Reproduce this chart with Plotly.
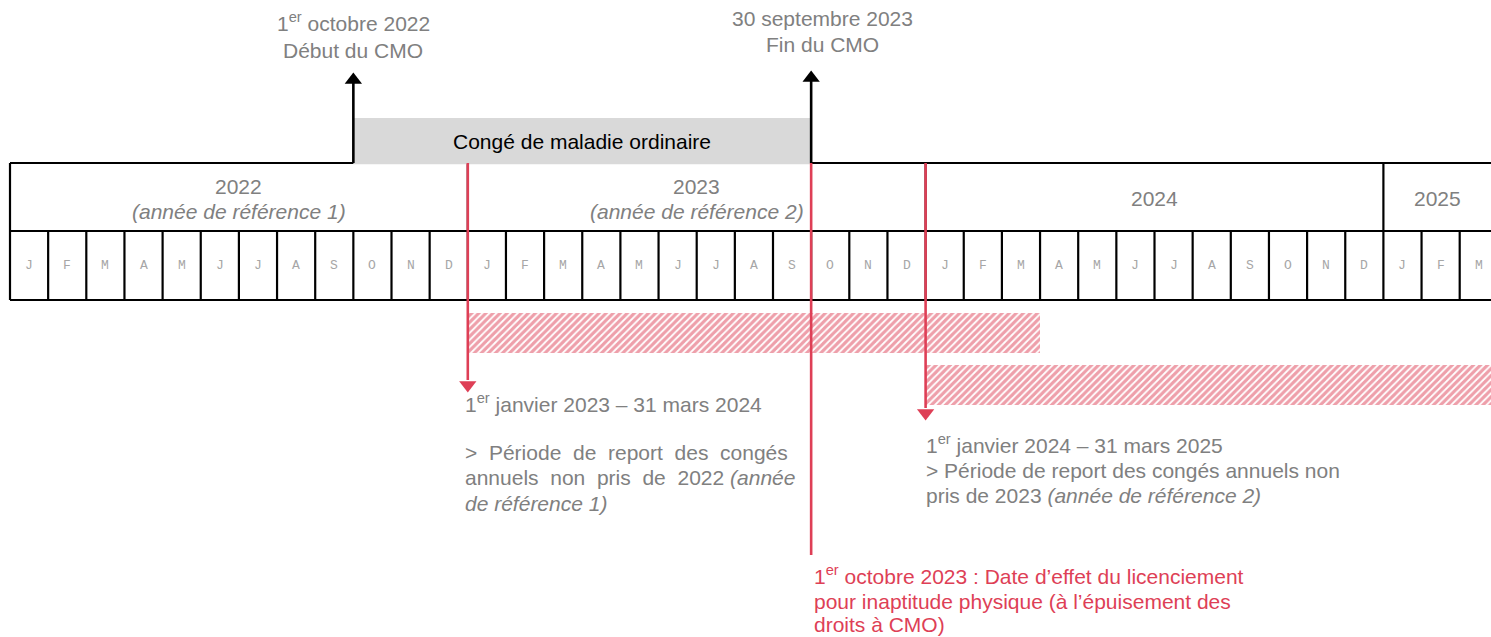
import plotly.graph_objects as go

# ---------------- data ----------------
month_letters = ["J", "F", "M", "A", "M", "J", "J", "A", "S", "O", "N", "D"]
years = [2022, 2023, 2024, 2025]
year_notes = ["(année de référence 1)", "(année de référence 2)", "", ""]
n_months = 39            # Jan 2022 .. Mar 2025 (months since 1 Jan 2022)
cmo_start = 9            # 1er octobre 2022
cmo_end = 21             # 30 septembre 2023 (end of month)
report_starts = [12, 24]  # 1er janvier 2023, 1er janvier 2024
report_ends = [27, 39]    # 31 mars 2024, 31 mars 2025
dismissal = 21           # 1er octobre 2023

# ---------------- style / layout constants ----------------
W, H = 1491, 637
PX = 38.15               # pixels per month
X0 = -10 / PX
X1 = X0 + W / PX
RED = "#DE3F56"
GREY = "#808080"
LGREY = "#A6A6A6"
FONT = "Arial, Liberation Sans, sans-serif"
MONO = "Courier New, Liberation Mono, monospace"
FS = 21
Y_TOP, Y_MID, Y_BOT = 163, 231, 300

fig = go.Figure()

# hatched report periods
bar_y = [333, 385]
for s, e, y in zip(report_starts, report_ends, bar_y):
    fig.add_trace(go.Bar(
        orientation="h", base=[s], x=[e - s], y=[y], width=40,
        marker=dict(color="white", line=dict(width=0),
                    pattern=dict(shape="/", fgcolor=RED, bgcolor="white",
                                 size=5, solidity=0.65)),
        showlegend=False, hoverinfo="skip"))

shapes = []
def line(x0, y0, x1, y1, color="black", w=2.2):
    shapes.append(dict(type="line", xref="x", yref="y", x0=x0, y0=y0, x1=x1, y1=y1,
                       line=dict(color=color, width=w)))

# table grid
line(0, Y_TOP, X1 + 1, Y_TOP)
line(0, Y_MID, X1 + 1, Y_MID)
line(0, Y_BOT, X1 + 1, Y_BOT)
for m in range(0, n_months + 1):
    line(m, Y_MID, m, Y_BOT)
for i in range(len(years)):
    line(12 * i, Y_TOP, 12 * i, Y_MID)

# grey CMO box
shapes.append(dict(type="rect", xref="x", yref="y", x0=cmo_start, x1=cmo_end,
                   y0=118, y1=164.2, fillcolor="#D9D9D9", line=dict(width=0)))

# red lines
line(report_starts[0], Y_TOP, report_starts[0], 380, RED, 2.6)
line(dismissal, Y_TOP, dismissal, 555, RED, 2.6)
line(report_starts[1], Y_TOP, report_starts[1], 408, RED, 2.6)

# black arrows
line(cmo_start, Y_TOP, cmo_start, 82, "black", 2.6)
line(cmo_end, Y_TOP, cmo_end, 80, "black", 2.6)

fig.add_trace(go.Scatter(
    x=[cmo_start, cmo_end], y=[80, 78], mode="markers",
    marker=dict(symbol="triangle-up", size=15, color="black"),
    showlegend=False, hoverinfo="skip", cliponaxis=False))
fig.add_trace(go.Scatter(
    x=report_starts, y=[385, 413], mode="markers",
    marker=dict(symbol="triangle-down", size=15, color=RED),
    showlegend=False, hoverinfo="skip", cliponaxis=False))

ann = []
def text(x, y, t, color=GREY, size=FS, anchor="center", family=FONT):
    ann.append(dict(x=x, y=y, xref="x", yref="y", text=t, showarrow=False,
                    xanchor=anchor, yanchor="middle",
                    font=dict(family=family, size=size, color=color)))

# months
for m in range(n_months):
    text(m + 0.5, 265, month_letters[m % 12], LGREY, 13, family=MONO)

# years
for i, (yv, note) in enumerate(zip(years, year_notes)):
    cx = 12 * i + 6
    if cx > X1:
        cx = (12 * i + X1) / 2
    if note:
        text(cx, 186, str(yv))
        text(cx, 211, "<i>" + note + "</i>")
    else:
        text(cx, 198, str(yv))

# top labels
text(cmo_start, 22, "1<sup>er</sup> octobre 2022")
text(cmo_start, 50, "Début du CMO")
text(cmo_end + 0.3, 18, "30 septembre 2023")
text(cmo_end + 0.3, 44, "Fin du CMO")
text((cmo_start + cmo_end) / 2, 141, "Congé de maladie ordinaire", "black")

# report period 1 text
xl1 = report_starts[0] - 0.12
text(xl1, 403, "1<sup>er</sup> janvier 2023 – 31 mars 2024", anchor="left")
text(xl1, 452, ">  Période  de  report  des  congés", anchor="left")
text(xl1, 477, "annuels  non  pris  de  2022 <i>(année</i>", anchor="left")
text(xl1, 503, "<i>de référence 1)</i>", anchor="left")

# report period 2 text
xl2 = report_starts[1] - 0.05
text(xl2, 444, "1<sup>er</sup> janvier 2024 – 31 mars 2025", anchor="left")
text(xl2, 470, "> Période de report des congés annuels non", anchor="left")
text(xl2, 495, "pris de 2023 <i>(année de référence 2)</i>", anchor="left")

# dismissal text
xd = dismissal + 0.02
text(xd, 575, "1<sup>er</sup> octobre 2023 : Date d’effet du licenciement", RED, anchor="left")
text(xd, 601, "pour inaptitude physique (à l’épuisement des", RED, anchor="left")
text(xd, 624, "droits à CMO)", RED, anchor="left")

fig.update_layout(
    width=W, height=H, margin=dict(l=0, r=0, t=0, b=0),
    paper_bgcolor="white", plot_bgcolor="white",
    barmode="overlay", bargap=0,
    xaxis=dict(range=[X0, X1], visible=False, fixedrange=True),
    yaxis=dict(range=[H, 0], visible=False, fixedrange=True),
    shapes=shapes, annotations=ann, showlegend=False,
    font=dict(family=FONT),
)

fig.write_html("out.html", config={"displayModeBar": False},
               post_script="document.body.style.margin='0';")
